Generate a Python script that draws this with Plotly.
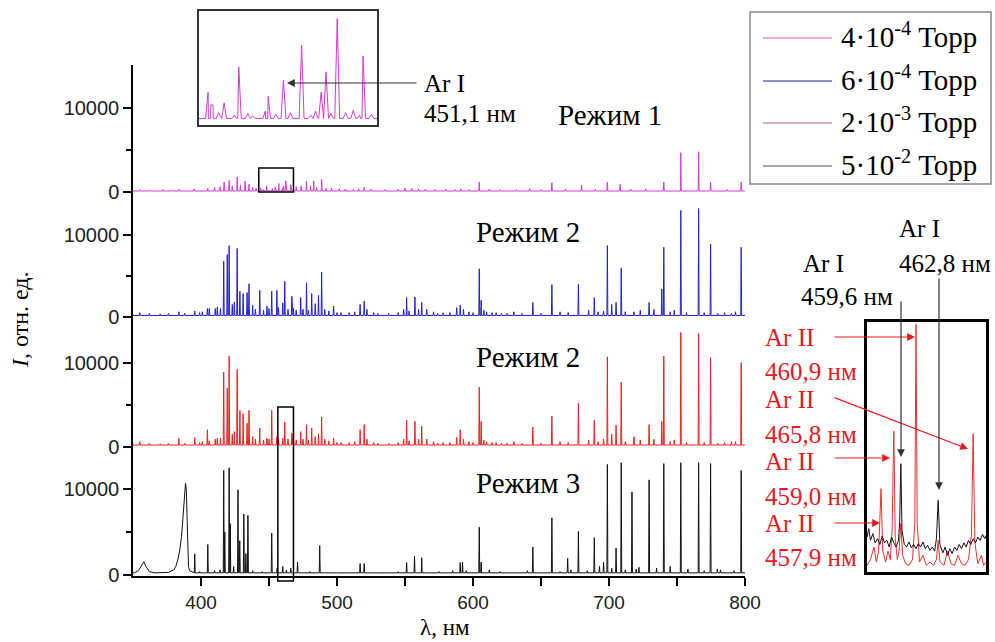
import plotly.graph_objects as go

# ---------------- data ----------------
# Panel 1 (4e-4 Torr, magenta): line positions, nm, and intensities
mag_wl = [355, 362, 372, 378, 384, 395, 405, 410, 414, 417,
          420.7, 423, 426.6, 429, 432.4, 435.3, 438, 440.5, 443.8, 444.2,
          444.5, 445.3, 446.1, 447.6, 448.2, 448.4, 449.5, 450.2, 452.0, 452.4,
          453.5, 454.6, 455.6, 457.2, 458.5, 459.2, 460.0, 460.7, 461.4, 462.3,
          463.5, 464.6, 465.5, 466.0, 467.2, 470, 473.6, 477.6, 480.6, 482.9,
          485, 488.7, 492, 496, 501.7, 506, 512, 516, 520, 525,
          535, 545, 550, 555, 560, 565, 572, 580, 587, 591,
          597, 604.6, 612, 620, 632, 641.6, 650, 658, 668, 679.9,
          690, 698.8, 708.2, 716, 727, 740.3, 752.8, 765.9, 774.7, 787,
          797.2]
mag_int = [250, 200, 250, 200, 300, 350, 400, 500, 600, 1150,
           1350, 700, 1750, 800, 1270, 900, 500, 400, 400, 245,
           245, 150, 270, 120, 710, 320, 140, 110, 170, 350,
           130, 550, 150, 975, 120, 170, 400, 650, 140, 1300,
           150, 180, 120, 845, 130, 600, 700, 1270, 700, 1270,
           500, 1470, 400, 450, 350, 300, 250, 350, 500, 300,
           250, 300, 450, 400, 350, 300, 250, 300, 250, 350,
           250, 1150, 300, 250, 250, 350, 250, 1070, 300, 750,
           300, 1150, 870, 300, 350, 1150, 4640, 4760, 1150, 250,
           1150]

# Panels 2 and 3 share line positions
lines_wl = [355, 362, 370, 376, 383.7, 388, 395.4, 399, 401, 404.7,
            406.1, 410.5, 412, 414.3, 416.7, 419.3, 420.7, 423, 424.5, 426.6,
            428.6, 431, 433.9, 435.3, 438, 440, 443.2, 446, 448.5, 450,
            452, 455.8, 457, 460.1, 461.6, 464, 466.8, 468, 470, 473.3,
            475, 477.6, 479, 481.4, 484, 486.4, 488.7, 491, 494, 497.5,
            500, 503, 509, 513, 517, 520, 522, 527, 530, 538,
            545, 549, 551.2, 553, 557.3, 560, 562.3, 566, 571, 574,
            578, 583, 588, 590.6, 593, 597, 600, 604.6, 606, 608,
            610, 614, 617, 621, 625, 630, 636, 644, 650, 658,
            664, 670, 677.5, 685, 689.2, 692, 696, 698.8, 702, 705.2,
            709, 712, 718.4, 723, 729.5, 733, 738.8, 740.3, 745, 748,
            752.8, 757, 765.9, 770, 774.7, 780, 785, 790, 793, 797.2]
blue_int = [500, 400, 350, 400, 600, 400, 700, 500, 600, 1000,
            1000, 1000, 1200, 1000, 6790, 7600, 8690, 1500, 1800, 8360,
            3110, 2830, 2950, 4040, 1400, 900, 3230, 800, 1300, 1000,
            3110, 3230, 1100, 1700, 4320, 900, 2500, 1000, 800, 2340,
            900, 4160, 800, 2830, 1600, 2630, 5450, 900, 700, 1300,
            500, 500, 500, 600, 1500, 1900, 900, 500, 400, 400,
            500, 900, 2340, 700, 2420, 900, 1740, 900, 600, 400,
            500, 500, 1100, 1410, 900, 600, 500, 5860, 2000, 800,
            600, 500, 500, 400, 400, 600, 400, 1740, 400, 3920,
            600, 500, 3960, 800, 2340, 600, 700, 8700, 1500, 1740,
            5940, 600, 600, 800, 1740, 900, 3400, 8500, 600, 800,
            13000, 500, 13250, 500, 8900, 400, 500, 400, 600, 8500]
red_int = [600, 400, 350, 400, 1000, 400, 1100, 500, 600, 2020,
           700, 900, 1000, 1000, 8890, 7000, 10800, 1500, 1800, 9210,
           4320, 3920, 2800, 4320, 1200, 900, 2220, 800, 1000, 900,
           4320, 1200, 900, 1000, 2950, 900, 1620, 900, 800, 1800,
           900, 2630, 800, 2220, 1200, 1500, 3520, 900, 700, 1000,
           500, 500, 500, 600, 2020, 2630, 900, 500, 400, 400,
           500, 900, 3150, 700, 3030, 900, 2420, 900, 600, 400,
           500, 500, 1100, 2020, 900, 600, 500, 7070, 3000, 800,
           600, 500, 500, 400, 400, 600, 400, 2340, 400, 3640,
           600, 500, 5170, 800, 3150, 600, 900, 10700, 1500, 2550,
           7700, 600, 1200, 800, 2630, 900, 3000, 10800, 600, 800,
           13600, 500, 13500, 500, 10600, 400, 500, 600, 600, 10000]

# Panel 4 (5e-2 Torr, black)
black_wl = [395.4, 399, 405, 410, 414, 416.7, 417.5, 420.7, 421.5, 424,
            427.2, 428.5, 431.5, 433, 434.5, 438, 445, 452, 456, 460.1,
            462.8, 466, 471, 480, 487.3, 500, 517, 520, 530, 545,
            551.2, 557, 562.3, 575, 585, 590.6, 592.3, 595, 604.6, 606,
            612, 620, 640, 644, 648, 658, 664, 669.6, 672, 677.5,
            684, 689.2, 693, 696, 698.8, 702, 705.2, 709, 712, 716.9,
            720, 722, 729.5, 735, 740.3, 745, 752.8, 758, 765.9, 770,
            774.7, 779.7, 782, 792, 797.2]
black_int = [2460, 400, 3560, 500, 600, 12200, 5000, 12500, 6000, 1000,
             9940, 4000, 7110, 2500, 6950, 500, 400, 4890, 800, 1000,
             600, 800, 1500, 400, 3430, 300, 1330, 1330, 300, 400,
             1450, 2220, 2020, 400, 500, 1450, 1500, 500, 5580, 1500,
             600, 400, 500, 3270, 300, 6670, 400, 1940, 600, 5090,
             500, 4360, 1000, 1500, 12900, 800, 3150, 13100, 600, 9700,
             700, 900, 11100, 800, 13000, 1000, 13100, 700, 13100, 500,
             13000, 700, 600, 500, 12200]
# broad molecular bands in panel 4
band_wl = [351, 354, 356.5, 358, 359.5, 362, 366,
           376, 379.9, 381.5, 382.8, 384.3, 385.7, 386.5, 387.2, 388, 388.6,
           389.2, 389.6, 390.2, 390.8, 391.6, 394]
band_int = [250, 500, 1100, 1540, 1000, 400, 250,
            300, 600, 1000, 1700, 2800, 4500, 6000, 7500, 9500, 10700,
            10000, 7000, 3000, 1000, 500, 300]

# Right inset (456.7-466.9 nm), red and black traces
rz_wl = [456.7, 457.0, 457.3, 457.5, 457.7, 457.9, 458.05, 458.3, 458.5, 458.7,
         458.85, 459.0, 459.12, 459.3, 459.45, 459.6, 459.75, 460.0, 460.3, 460.6,
         460.8, 460.9, 461.0, 461.2, 461.5, 461.8, 462.1, 462.4, 462.65, 462.8,
         462.95, 463.3, 463.6, 463.9, 464.2, 464.5, 464.8, 465.1, 465.4, 465.65,
         465.8, 465.95, 466.2, 466.5, 466.7, 466.9]
rz_int = [80, 150, 300, 120, 250, 1000, 250, 120, 250, 150,
          500, 1690, 400, 150, 250, 580, 200, 100, 80, 150,
          600, 2970, 600, 120, 200, 80, 120, 80, 150, 380,
          120, 80, 250, 100, 80, 200, 100, 80, 150, 450,
          1660, 350, 100, 200, 80, 120]
kz_wl = [456.7, 456.85, 457.0, 457.2, 457.4, 457.6, 457.8, 458.0, 458.2, 458.4,
         458.6, 458.8, 459.0, 459.2, 459.4, 459.5, 459.6, 459.7, 459.9, 460.1,
         460.3, 460.5, 460.7, 460.9, 461.1, 461.3, 461.5, 461.7, 461.9, 462.1,
         462.3, 462.5, 462.65, 462.8, 462.95, 463.2, 463.4, 463.6, 463.8, 464.0,
         464.2, 464.4, 464.6, 464.8, 465.0, 465.2, 465.4, 465.6, 465.8, 466.0,
         466.2, 466.4, 466.6, 466.8, 466.9]
kz_int = [420, 520, 380, 460, 350, 400, 330, 430, 350, 380,
          300, 420, 350, 300, 380, 600, 1300, 500, 330, 300,
          360, 290, 330, 280, 340, 300, 360, 280, 320, 260,
          300, 250, 400, 860, 330, 230, 300, 200, 280, 220,
          300, 260, 330, 280, 350, 300, 380, 330, 400, 350,
          420, 380, 450, 400, 440]

legend_labels = ["4·10<sup>-4</sup> Торр", "6·10<sup>-4</sup> Торр",
                 "2·10<sup>-3</sup> Торр", "5·10<sup>-2</sup> Торр"]
x_tickvals = [400, 500, 600, 700, 800]
x_ticktext = ["400", "500", "600", "700", "800"]
y_tickvals = [0, 10000]
y_ticktext = ["0", "10000"]
mode_labels = ["Режим 1", "Режим 2", "Режим 2", "Режим 3"]

# ---------------- layout helpers ----------------
W, H = 995, 642
L, R, T, B = 133, 8, 8, 66
PW, PH = W - L - R, H - T - B
BOT = H - B  # pixel row of the x axis


def px(x):
    return (x - L) / PW


def py(y):
    return (BOT - y) / PH


def sticks(wl, inten, base, bwl=(), bint=()):
    pts = []
    for w, h in zip(wl, inten):
        pts += [(w - 0.35, base), (w, h), (w + 0.35, base)]
    pts += list(zip(bwl, bint))
    pts += [(350, base), (800, base)]
    pts.sort(key=lambda p: p[0])
    return [p[0] for p in pts], [p[1] for p in pts]


SERIF = "Liberation Serif, Times New Roman, serif"
SANS = "Liberation Sans, Arial, sans-serif"
colors = ["#d23cd2", "#2222cc", "#e82222", "#111111"]

fig = go.Figure()
series = [
    sticks(mag_wl, mag_int, 80),
    sticks(lines_wl, blue_int, 150),
    sticks(lines_wl, red_int, 200),
    sticks(black_wl, black_int, 250, band_wl, band_int),
]
for i, (xs, ys) in enumerate(series):
    n = "" if i == 0 else str(i + 1)
    fig.add_trace(go.Scatter(x=xs, y=ys, mode="lines", xaxis="x" + n, yaxis="y" + n,
                             line=dict(color=colors[i], width=1), showlegend=False,
                             hoverinfo="skip"))
# top inset: magenta zoom
fig.add_trace(go.Scatter(x=series[0][0], y=series[0][1], mode="lines", xaxis="x5", yaxis="y5",
                         line=dict(color=colors[0], width=1), showlegend=False))
# right inset: red and black zoom
fig.add_trace(go.Scatter(x=rz_wl, y=rz_int, mode="lines", xaxis="x6", yaxis="y6",
                         line=dict(color="#e83030", width=1), showlegend=False))
fig.add_trace(go.Scatter(x=kz_wl, y=kz_int, mode="lines", xaxis="x6", yaxis="y6",
                         line=dict(color="#111111", width=1), showlegend=False))

lay = dict(width=W, height=H, margin=dict(l=L, r=R, t=T, b=B, autoexpand=False),
           paper_bgcolor="white", plot_bgcolor="rgba(0,0,0,0)", showlegend=False)
# per panel: (bottom px, top px, zero px, px per 10000)
panels = [(193.5, 65, 191.7, 84.0), (318.5, 193.5, 316.7, 81.7),
          (448.5, 318.5, 446.7, 84.0), (576, 448.5, 575.0, 85.7)]
xtickfont = dict(family=SANS, size=19, color="#222")
ytickfont = dict(family=SANS, size=20, color="#222")
for i, (bpx, tpx, zpx, spx) in enumerate(panels):
    n = "" if i == 0 else str(i + 1)
    k = "" if i == 0 else str(i + 1)
    yr = [-(bpx - zpx) / spx * 10000, (zpx - tpx) / spx * 10000]
    xa = dict(domain=[0, px(745)], range=[350, 800], anchor="y" + n, showgrid=False,
              zeroline=False, showline=False, showticklabels=False, ticks="",
              automargin=False)
    if i == 3:
        xa.update(showline=True, linecolor="black", linewidth=1.5, ticks="outside",
                  ticklen=8, tickwidth=1.5, tickcolor="black", showticklabels=True,
                  tickvals=x_tickvals, ticktext=x_ticktext, tickfont=xtickfont,
                  minor=dict(tickvals=[450, 550, 650, 750], ticks="outside", ticklen=8,
                             tickwidth=1.5, tickcolor="black"))
    lay["xaxis" + k] = xa
    lay["yaxis" + k] = dict(
        domain=[py(bpx), py(tpx)], range=yr, anchor="x" + n, showgrid=False, zeroline=False,
        showline=True, linecolor="black", linewidth=1.5, ticks="outside", ticklen=8,
        tickwidth=1.5, tickcolor="black", tickvals=y_tickvals, ticktext=y_ticktext,
        tickfont=ytickfont, automargin=False,
        minor=dict(tickvals=[5000], ticks="outside", ticklen=5, tickwidth=1.5,
                   tickcolor="black"))
inset_axis = dict(showgrid=False, zeroline=False, showticklabels=False, ticks="",
                  showline=True, mirror=True, automargin=False)
lay["xaxis5"] = dict(inset_axis, domain=[px(199), px(377)], range=[442.5, 468], anchor="y5",
                     linecolor="#333", linewidth=1.5)
lay["yaxis5"] = dict(inset_axis, domain=[py(125), py(11)], range=[0, 1393], anchor="x5",
                     linecolor="#333", linewidth=1.5)
lay["xaxis6"] = dict(inset_axis, domain=[px(867), px(986)], range=[456.7, 466.9], anchor="y6",
                     linecolor="black", linewidth=2.5)
lay["yaxis6"] = dict(inset_axis, domain=[py(572), py(322)], range=[0, 3000], anchor="x6",
                     linecolor="black", linewidth=2.5)
fig.update_layout(**lay)

shapes = []
# magnifier rectangles
shapes.append(dict(type="rect", xref="x", yref="paper", x0=442.5, x1=468,
                   y0=py(192), y1=py(168), line=dict(color="black", width=1.5)))
shapes.append(dict(type="rect", xref="x4", yref="paper", x0=456.5, x1=468,
                   y0=py(581), y1=py(407), line=dict(color="black", width=1.5)))
# legend box
shapes.append(dict(type="rect", xref="paper", yref="paper", x0=px(750), x1=px(991),
                   y0=py(184), y1=py(12), line=dict(color="#888", width=1.5)))
leg_line_colors = ["#e08ae0", "#6868bb", "#c99a9a", "#8c8c8c"]
leg_rows = [38, 81, 123, 166]
anns = []
for c, yrow, lab in zip(leg_line_colors, leg_rows, legend_labels):
    shapes.append(dict(type="line", xref="paper", yref="paper", x0=px(763), x1=px(832),
                       y0=py(yrow), y1=py(yrow), line=dict(color=c, width=1.5)))
    anns.append(dict(text=lab, xref="paper", yref="paper", x=px(839), y=py(yrow - 3),
                     xanchor="left", yanchor="middle", showarrow=False,
                     font=dict(family=SERIF, size=29, color="black")))


def txt(s, x, y, color="black", size=25, xanchor="center"):
    anns.append(dict(text=s, xref="paper", yref="paper", x=px(x), y=py(y), xanchor=xanchor,
                     yanchor="middle", showarrow=False, font=dict(family=SERIF, size=size,
                                                                  color=color)))


def arrow(tipx, tipy, tailx, taily, color):
    anns.append(dict(text="", xref="paper", yref="paper", x=px(tipx), y=py(tipy),
                     ax=tailx - tipx, ay=taily - tipy, showarrow=True, arrowhead=2,
                     arrowsize=1.3, arrowwidth=1.2, arrowcolor=color, standoff=0))


# mode labels
txt(mode_labels[0], 610, 115, size=29)
txt(mode_labels[1], 528, 232, size=29)
txt(mode_labels[2], 528, 357, size=29)
txt(mode_labels[3], 528, 483, size=29)
# top inset label
txt("Ar I", 422, 83, xanchor="left")
txt("451,1 нм", 422, 113, xanchor="left")
arrow(287, 83, 418, 83, "#333")
# right inset labels
RED = "#e8191c"
txt("Ar I", 801, 263, xanchor="left")
txt("459,6 нм", 799, 296, xanchor="left")
txt("Ar I", 897, 228, xanchor="left")
txt("462,8 нм", 897, 263, xanchor="left")
for s, yy in [("Ar II", 337), ("460,9 нм", 371), ("Ar II", 399), ("465,8 нм", 434),
              ("Ar II", 461), ("459,0 нм", 496), ("Ar II", 523), ("457,9 нм", 557)]:
    txt(s, 763, yy, color=RED, xanchor="left")
arrow(915, 337, 833, 337, RED)
arrow(968, 449, 833, 397, RED)
arrow(890, 458, 833, 458, RED)
arrow(880, 523, 833, 523, RED)
arrow(901, 457, 901, 300, "#333")
arrow(939, 490, 939, 277, "#333")
# axis titles
anns.append(dict(text="<i>I</i>, отн. ед.", xref="paper", yref="paper", x=px(20), y=py(320),
                 textangle=-90, showarrow=False, xanchor="center", yanchor="middle",
                 font=dict(family=SERIF, size=24, color="black")))
anns.append(dict(text="λ, нм", xref="paper", yref="paper", x=px(445), y=py(627),
                 showarrow=False, xanchor="center", yanchor="middle",
                 font=dict(family=SERIF, size=23, color="black")))
fig.update_layout(shapes=shapes, annotations=anns)
fig.write_html("out.html", config={"displayModeBar": False},
               post_script="document.body.style.margin='0px';"
                           "document.body.style.overflow='hidden';")
